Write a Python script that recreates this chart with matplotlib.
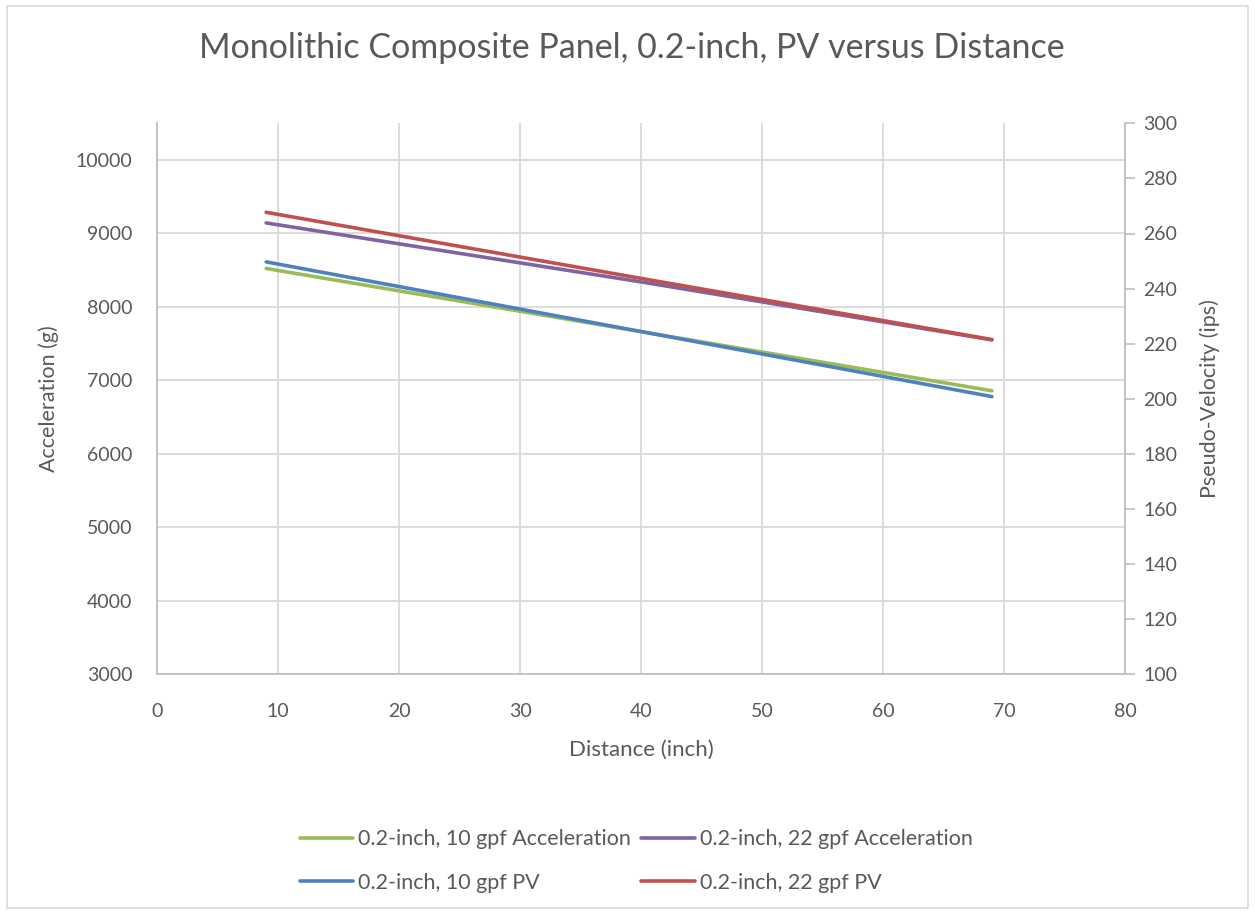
import numpy as np
import matplotlib
matplotlib.use("Agg")
import matplotlib.pyplot as plt
from matplotlib.patches import Rectangle

plt.rcParams['font.family'] = ['Lato', 'DejaVu Sans']

# --- data ------------------------------------------------------------------
distance = [9, 40, 69]
acc_10gpf = [8524, 7664, 6859]     # g, left axis
acc_22gpf = [9144, 8341, 7552]     # g, left axis
pv_10gpf = [249.7, 224.4, 200.8]   # ips, right axis
pv_22gpf = [267.7, 243.7, 221.5]   # ips, right axis

left_ticks = [3000, 4000, 5000, 6000, 7000, 8000, 9000, 10000]
right_ticks = list(range(100, 301, 20))
x_ticks = list(range(0, 81, 10))

GREEN, PURPLE, BLUE, RED = "#9BBB59", "#8064A2", "#4F81BD", "#C0504D"
TXT = "#595959"
GRID = "#D9D9D9"

W, H = 1255, 914
fig = plt.figure(figsize=(W/100, H/100), dpi=100)
ax = fig.add_axes([157.3/W, 1-674.3/H, (1125-157.3)/W, (674.3-123.3)/H])
ax2 = ax.twinx()

# chart border
fig.patches.append(Rectangle((7/W, 6/H), (1248-7)/W, (908-6)/H, transform=fig.transFigure,
                             fill=False, edgecolor=GRID, lw=1.2))

l1, = ax.plot(distance, acc_10gpf, color=GREEN, lw=2.6, solid_capstyle="round",
              label="0.2-inch, 10 gpf Acceleration")
l2, = ax.plot(distance, acc_22gpf, color=PURPLE, lw=2.6, solid_capstyle="round",
              label="0.2-inch, 22 gpf Acceleration")
l3, = ax2.plot(distance, pv_10gpf, color=BLUE, lw=2.6, solid_capstyle="round",
               label="0.2-inch, 10 gpf PV")
l4, = ax2.plot(distance, pv_22gpf, color=RED, lw=2.6, solid_capstyle="round",
               label="0.2-inch, 22 gpf PV")

ax.set_xlim(0, 80); ax.set_ylim(3000, 10500)
ax2.set_ylim(100, 300)
ax.set_xticks(x_ticks); ax.set_yticks(left_ticks)
ax2.set_yticks(right_ticks)

for a in (ax, ax2):
    for s in a.spines.values():
        s.set_visible(False)
ax.spines['left'].set_visible(True); ax.spines['bottom'].set_visible(True)
ax2.spines['right'].set_visible(True)
for s in (ax.spines['left'], ax.spines['bottom'], ax2.spines['right']):
    s.set_color("#BFBFBF"); s.set_linewidth(1.3)

ax.grid(True, color=GRID, lw=1.3)
ax.set_axisbelow(True)
ax.tick_params(axis='y', length=0, labelsize=14, labelcolor=TXT, pad=18)
ax.tick_params(axis='x', length=0, labelsize=14, labelcolor=TXT, pad=21)
ax2.tick_params(axis='y', length=7, width=1.2, color="#BFBFBF", labelsize=14,
                labelcolor=TXT, pad=6)

ax.set_xlabel("Distance (inch)", fontsize=16, color=TXT, labelpad=14)
ax.set_ylabel("Acceleration (g)", fontsize=15.5, color=TXT, labelpad=12)
ax2.set_ylabel("Pseudo-Velocity (ips)", fontsize=15.5, color=TXT, labelpad=16)

fig.text(632/W, 1-48/H, "Monolithic Composite Panel, 0.2-inch, PV versus Distance",
         ha="center", va="center", fontsize=24.5, color=TXT)

fig.legend([l1, l3, l2, l4], [h.get_label() for h in (l1, l3, l2, l4)],
           ncol=2, loc="center", bbox_to_anchor=(636/W, 1-861/H), frameon=False,
           fontsize=15.5, labelcolor=TXT, handlelength=2.5, handletextpad=0.2,
           columnspacing=0.5, labelspacing=1.1)

fig.savefig("out.png", dpi=100)
